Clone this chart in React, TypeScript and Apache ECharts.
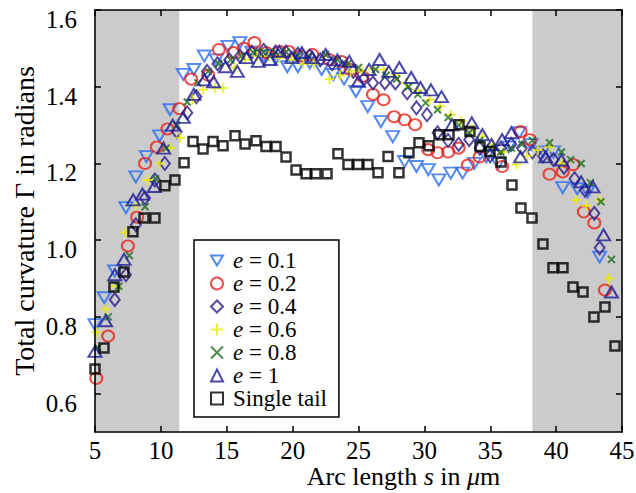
import React, { useEffect, useRef } from "react";
import * as echarts from "echarts";

const xTicks = [5, 10, 15, 20, 25, 30, 35, 40, 45];
const yTicks = [0.6, 0.8, 1.0, 1.2, 1.4, 1.6];
const shadedRanges = [[5, 11.4], [38.2, 45]];

const e01 = [[5.0,0.78],[5.7,0.85],[6.5,0.92],[7.35,1.085],[8.1,1.165],[8.9,1.218],[9.9,1.272],[10.7,1.34],[11.7,1.432],[12.5,1.445],[13.3,1.48],[14.2,1.47],[15.1,1.505],[16.0,1.515],[16.9,1.49],[17.8,1.48],[18.7,1.473],[19.6,1.452],[20.4,1.452],[21.3,1.462],[22.2,1.445],[23.1,1.432],[23.9,1.42],[24.8,1.388],[25.7,1.348],[26.7,1.309],[27.6,1.27],[28.5,1.205],[29.4,1.192],[30.3,1.184],[31.1,1.157],[32.0,1.175],[32.9,1.175],[33.8,1.2],[34.7,1.217],[35.6,1.2],[36.4,1.243],[37.2,1.28],[38.1,1.249],[39.0,1.23],[39.8,1.23],[40.5,1.137],[41.6,1.134],[42.4,1.126],[43.3,0.956]];
const e02 = [[5.1,0.64],[6.0,0.75],[7.5,0.985],[8.2,1.06],[8.8,1.2],[9.7,1.243],[10.5,1.29],[11.4,1.343],[12.3,1.42],[13.6,1.43],[14.4,1.497],[15.5,1.489],[16.3,1.5],[17.1,1.515],[18.0,1.489],[19.0,1.492],[19.7,1.492],[20.6,1.48],[21.5,1.484],[22.8,1.471],[23.7,1.466],[24.4,1.445],[25.3,1.427],[26.1,1.38],[26.9,1.366],[27.7,1.322],[28.5,1.314],[29.3,1.301],[30.3,1.236],[31.0,1.228],[31.8,1.23],[32.6,1.24],[33.3,1.196],[34.2,1.217],[35.9,1.192],[37.3,1.283],[38.0,1.262],[39.5,1.172],[40.5,1.178],[41.3,1.197],[42.1,1.074],[42.9,1.045],[43.7,0.87]];
const e04 = [[6.5,0.845],[7.35,0.91],[8.1,1.04],[8.8,1.11],[9.55,1.157],[10.3,1.2],[11.2,1.283],[12.0,1.332],[12.7,1.374],[13.5,1.44],[14.3,1.46],[15.2,1.47],[16.0,1.48],[16.9,1.49],[17.8,1.495],[18.7,1.49],[19.5,1.49],[20.4,1.485],[21.3,1.48],[22.1,1.47],[23.0,1.46],[23.8,1.45],[24.6,1.44],[25.4,1.42],[26.1,1.41],[27.0,1.41],[27.8,1.41],[28.7,1.384],[29.4,1.345],[30.2,1.327],[31.0,1.28],[31.8,1.26],[32.6,1.25],[33.4,1.262],[34.2,1.24],[35.0,1.22],[35.8,1.24],[36.6,1.25],[37.4,1.24],[38.2,1.23],[39.0,1.22],[39.8,1.21],[40.6,1.19],[41.4,1.16],[42.2,1.13],[42.9,1.07],[43.3,0.98]];
const e06 = [[5.1,0.76],[5.8,0.82],[6.6,0.88],[7.3,1.02],[8.1,1.09],[9.0,1.157],[9.9,1.2],[10.7,1.24],[11.45,1.267],[12.4,1.366],[13.2,1.392],[14.1,1.397],[14.7,1.397],[15.6,1.45],[16.4,1.47],[17.3,1.48],[18.2,1.48],[19.0,1.475],[19.9,1.47],[20.8,1.46],[21.6,1.46],[22.8,1.42],[23.6,1.43],[24.4,1.44],[25.3,1.44],[26.1,1.445],[26.9,1.445],[27.8,1.43],[28.6,1.41],[29.5,1.39],[30.4,1.366],[31.2,1.35],[32.0,1.327],[32.8,1.31],[33.6,1.29],[34.4,1.27],[35.2,1.25],[36.0,1.23],[37.0,1.197],[37.8,1.22],[38.6,1.235],[39.5,1.243],[40.4,1.2],[41.5,1.105],[42.3,1.09],[43.3,1.105],[44.0,0.9]];
const e08 = [[5.2,0.72],[6.0,0.8],[6.8,0.88],[7.6,0.96],[8.8,1.087],[9.6,1.16],[10.4,1.24],[11.2,1.3],[12.0,1.36],[12.8,1.41],[13.6,1.44],[14.4,1.46],[15.3,1.47],[16.1,1.48],[17.0,1.49],[17.8,1.49],[18.7,1.49],[19.5,1.49],[20.4,1.48],[21.2,1.48],[22.5,1.484],[23.4,1.47],[24.2,1.46],[25.0,1.45],[26.3,1.445],[27.1,1.43],[27.9,1.42],[28.8,1.4],[29.5,1.38],[30.1,1.358],[31.0,1.34],[31.8,1.32],[32.6,1.3],[33.4,1.28],[34.2,1.26],[35.0,1.24],[35.8,1.23],[36.6,1.24],[37.4,1.25],[38.2,1.26],[39.5,1.254],[40.4,1.23],[41.1,1.21],[41.9,1.2],[42.6,1.15],[43.4,1.1],[44.2,0.95]];
const e10 = [[5.0,0.71],[5.8,0.79],[6.5,0.91],[7.2,0.95],[7.9,1.105],[8.6,1.12],[9.5,1.14],[10.2,1.24],[10.9,1.3],[11.7,1.32],[12.5,1.38],[13.3,1.418],[14.0,1.413],[14.9,1.452],[15.8,1.44],[16.5,1.476],[17.4,1.466],[18.3,1.471],[19.0,1.492],[19.95,1.476],[20.7,1.489],[21.5,1.476],[22.5,1.484],[23.4,1.47],[24.3,1.466],[25.0,1.414],[25.8,1.445],[26.6,1.471],[27.3,1.44],[28.1,1.45],[29.0,1.424],[29.7,1.398],[30.5,1.392],[31.3,1.374],[32.1,1.301],[33.6,1.306],[34.4,1.275],[35.1,1.249],[35.9,1.262],[36.6,1.28],[37.3,1.217],[39.2,1.217],[40.4,1.209],[41.9,1.152],[42.8,1.139],[43.6,1.014],[44.2,0.865]];
const singleTail = [[5.0,0.664],[5.68,0.719],[6.44,0.878],[7.2,0.917],[7.88,1.022],[8.72,1.058],[9.55,1.058],[10.31,1.142],[11.07,1.157],[11.76,1.202],[12.44,1.257],[13.2,1.238],[13.96,1.257],[14.72,1.246],[15.63,1.272],[16.39,1.251],[17.22,1.259],[17.98,1.244],[18.74,1.244],[19.5,1.217],[20.26,1.183],[21.02,1.173],[21.77,1.173],[22.61,1.173],[23.44,1.225],[24.2,1.197],[24.96,1.197],[25.72,1.197],[26.48,1.176],[27.24,1.218],[28.07,1.176],[28.83,1.228],[29.59,1.254],[30.35,1.246],[31.11,1.275],[31.87,1.275],[32.63,1.301],[33.46,1.283],[34.22,1.244],[34.98,1.231],[35.82,1.204],[36.65,1.144],[37.33,1.084],[38.17,1.058],[39.0,0.99],[39.76,0.928],[40.52,0.928],[41.28,0.878],[42.04,0.865],[42.87,0.8],[43.71,0.826],[44.47,0.724]];

const names = ["e = 0.1", "e = 0.2", "e = 0.4", "e = 0.6", "e = 0.8", "e = 1", "Single tail"];
const serif = "'Liberation Serif', 'DejaVu Serif', serif";
const clear = "rgba(255,255,255,0)";

export default function App() {
  const ref = useRef<HTMLDivElement>(null);
  useEffect(() => {
    document.body.style.margin = "0";
    const chart = echarts.init(ref.current!, undefined, { renderer: "svg" });
    const axisLine = { show: true, lineStyle: { color: "#000", width: 1.6 } };
    const tick = { show: true, inside: true, length: 6, lineStyle: { color: "#000", width: 1.5 } };
    const xBase = { type: "value", min: 5, max: 45, interval: 5, splitLine: { show: false }, axisLine, axisTick: tick, z: 6 };
    const yBase = {
      type: "value", min: 0.5, max: 1.6, splitLine: { show: false }, axisLine, z: 6,
      axisTick: { ...tick, customValues: yTicks },
    };
    const mk = (name: string, data: number[][], symbol: string, size: any, color: string, extra: any = {}) => ({
      name, type: "scatter", data, symbol, symbolSize: size,
      itemStyle: { color: clear, borderColor: color, borderWidth: 2 },
      z: 3,
      ...extra,
    });
    chart.setOption({
      animation: false,
      backgroundColor: "#fff",
      grid: { left: 95, right: 14, top: 10, bottom: 61, outerBoundsMode: "none", containLabel: false },
      xAxis: [
        {
          ...xBase, position: "bottom",
          axisLabel: { color: "#000", fontFamily: serif, fontSize: 25, margin: 6, lineHeight: 24, customValues: xTicks },
          name: "Arc length {i|s} in {i|\u03bc}m", nameLocation: "middle", nameGap: 31, nameMoveOverlap: false,
          nameTextStyle: {
            color: "#000", fontFamily: serif, fontSize: 26, lineHeight: 26, padding: [0, 0, 0, 90],
            rich: { i: { fontStyle: "italic", fontFamily: serif, fontSize: 26, lineHeight: 26, color: "#000" } },
          },
        },
        { ...xBase, position: "top", axisLabel: { show: false } },
      ],
      yAxis: [
        {
          ...yBase, position: "left",
          axisLabel: {
            color: "#000", fontFamily: serif, fontSize: 25, margin: 18, lineHeight: 19, verticalAlign: "top",
            customValues: yTicks, formatter: (v: number) => v.toFixed(1),
          },
          name: "Total curvature \u0393 in radians", nameLocation: "middle", nameGap: 57, nameMoveOverlap: false,
          nameTextStyle: { color: "#000", fontFamily: serif, fontSize: 28 },
        },
        { ...yBase, position: "right", axisLabel: { show: false } },
      ],
      legend: {
        data: names,
        orient: "vertical",
        left: 194, top: 240,
        backgroundColor: "#fff",
        borderColor: "#000", borderWidth: 1.5, borderRadius: 0,
        padding: [9, 12, 7, 16],
        itemWidth: 12, itemHeight: 12, itemGap: 0,
        textStyle: {
          color: "#000", fontFamily: serif, fontSize: 23, lineHeight: 22.7, padding: [0, 0, 0, 5],
          rich: { i: { fontStyle: "italic", fontFamily: serif, fontSize: 23, color: "#000", lineHeight: 22.7 } },
        },
        formatter: (n: string) => (n.startsWith("e ") ? "{i|e}" + n.slice(1) : n),
        z: 8,
      },
      series: [
        {
          name: "shade", type: "scatter", data: [[5, 0.5]], symbolSize: 0, silent: true, z: 1,
          markArea: {
            silent: true,
            itemStyle: { color: "#cbcbcb" },
            data: shadedRanges.map(([a, b]) => [{ xAxis: a }, { xAxis: b }]),
          },
        },
        mk(names[0], e01, "path://M0,0L12,0L6,10Z", [13, 11], "#2a6cf0"),
        mk(names[1], e02, "circle", [12, 11], "#e8231c"),
        mk(names[2], e04, "diamond", [10, 13], "#2e1d8a"),
        mk(names[3], e06, "path://M5,0L5,10M0,5L10,5", [10, 10], "#ecec00"),
        mk(names[4], e08, "path://M0,0L10,10M10,0L0,10", [7, 7], "#1f6b1f"),
        mk(names[5], e10, "triangle", [13, 11], "#1c1c96"),
        mk(names[6], singleTail, "rect", [9, 9], "#000", { itemStyle: { color: clear, borderColor: "#000", borderWidth: 2.5 } }),
      ],
    });
    return () => chart.dispose();
  }, []);
  return <div ref={ref} style={{ width: 636, height: 493 }} />;
}
